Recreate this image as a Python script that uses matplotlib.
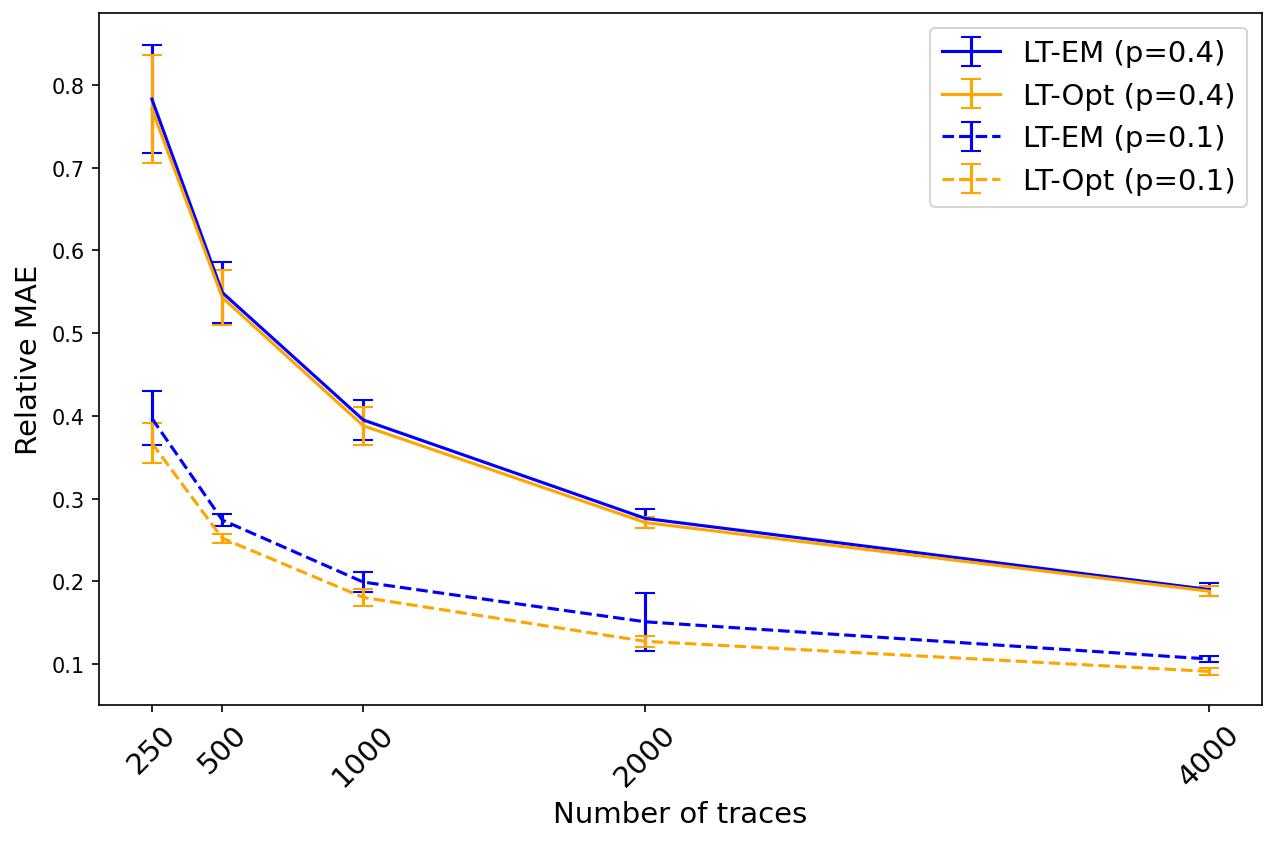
import numpy as np
import matplotlib.pyplot as plt

traces = [250, 500, 1000, 2000, 4000]

em_04 = [0.783, 0.549, 0.395, 0.276, 0.190]
em_04_err = [0.065, 0.037, 0.024, 0.011, 0.0075]
opt_04 = [0.771, 0.543, 0.388, 0.271, 0.188]
opt_04_err = [0.065, 0.033, 0.023, 0.007, 0.006]

em_01 = [0.397, 0.274, 0.199, 0.151, 0.106]
em_01_err = [0.0325, 0.0075, 0.0117, 0.035, 0.004]
opt_01 = [0.367, 0.252, 0.1805, 0.1274, 0.091]
opt_01_err = [0.0245, 0.0055, 0.010, 0.0068, 0.0044]

fig, ax = plt.subplots(figsize=(8.507, 5.633), dpi=150)
ax.errorbar(traces, em_04, yerr=em_04_err, color='blue', linestyle='-', capsize=5, label='LT-EM (p=0.4)')
ax.errorbar(traces, opt_04, yerr=opt_04_err, color='orange', linestyle='-', capsize=5, label='LT-Opt (p=0.4)')
ax.errorbar(traces, em_01, yerr=em_01_err, color='blue', linestyle='--', capsize=5, label='LT-EM (p=0.1)')
ax.errorbar(traces, opt_01, yerr=opt_01_err, color='orange', linestyle='--', capsize=5, label='LT-Opt (p=0.1)')

ax.set_xticks(traces)
ax.set_xticklabels([str(t) for t in traces], rotation=45, fontsize=14)
ax.set_ylim(0.0504, 0.887)
ax.set_xlabel('Number of traces', fontsize=14)
ax.set_ylabel('Relative MAE', fontsize=14)
ax.legend(fontsize=14)
fig.subplots_adjust(left=99/1276, right=1262/1276, top=1-14/845, bottom=1-706/845)
fig.savefig('out.png', dpi=150)
